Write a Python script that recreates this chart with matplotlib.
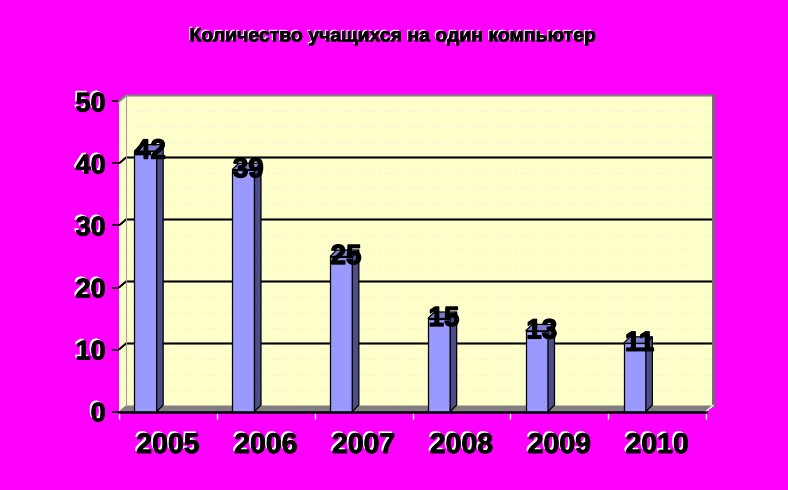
import matplotlib
matplotlib.use('Agg')
import matplotlib.pyplot as plt
from matplotlib.patches import Polygon, Rectangle
import matplotlib.patheffects as pe

# ---- data ----
years = ['2005', '2006', '2007', '2008', '2009', '2010']
values = [42, 39, 25, 15, 13, 11]
title = 'Количество учащихся на один компьютер'
yticks = [0, 10, 20, 30, 40, 50]
minor_grid = [2.5, 5, 7.5, 12.5, 15, 17.5, 22.5, 25, 27.5, 32.5, 35, 37.5, 42.5, 45, 47.5]

plt.rcParams['font.family'] = ['Liberation Sans', 'DejaVu Sans']

W, H = 788, 490
fig = plt.figure(figsize=(W / 100, H / 100), dpi=100, facecolor='#FF00FF')
x0, x1 = 119, 706
y0, y1 = 411.5, 101.5
ax = fig.add_axes([x0 / W, (H - y0) / H, (x1 - x0) / W, (y0 - y1) / H])
n = len(years)
ax.set_xlim(0, n)
ax.set_ylim(0, 50)
ax.patch.set_visible(False)

ppx = (x1 - x0) / n
ppy = (y0 - y1) / 50
dx = 7 / ppx
dy = 6 / ppy
wall = '#FFFFCC'
ymax = yticks[-1]

# back wall, left wall, floor
ax.add_patch(Rectangle((dx, dy), n, ymax, fc=wall, ec='none', zorder=0, clip_on=False))
ax.add_patch(Polygon([(0, 0), (dx, dy), (dx, ymax + dy), (0, ymax)], closed=True,
                     fc=wall, ec='none', zorder=0, clip_on=False))
ax.add_patch(Polygon([(0, 0), (n, 0), (n + dx, dy), (dx, dy)], closed=True,
                     fc='#808080', ec='none', zorder=1, clip_on=False))

# faint dotted lines on the wall
for v in minor_grid:
    ax.plot([dx, n + dx], [v + dy, v + dy], color='#EEEED8', lw=1.0,
            ls=(0, (1, 2.5)), zorder=0.5, clip_on=False)

# major gridlines
for v in yticks[1:-1]:
    ax.plot([0, dx, n + dx], [v, v + dy, v + dy], color='black', lw=1.5,
            zorder=1.5, clip_on=False, solid_capstyle='butt')

# wall borders
ax.plot([0, dx, n + dx], [ymax, ymax + dy, ymax + dy], color='#808080', lw=1.5,
        zorder=1.6, clip_on=False)
ax.plot([dx, dx], [dy, ymax + dy], color='#A0A0A0', lw=0.8, zorder=1.6, clip_on=False)
ax.plot([n + dx, n + dx], [dy, ymax + dy], color='#707070', lw=2.2, zorder=1.6, clip_on=False)
ax.plot([n, n + dx], [0, dy], color='white', lw=1.0, zorder=1.7, clip_on=False)

bold_stroke = [pe.withStroke(linewidth=0.9, foreground='black')]

# bars
bl, bw = 0.157, 0.228
bdx, bdy = 6.5 / ppx, 6.5 / ppy
for i, v in enumerate(values):
    left = i + bl
    ax.add_patch(Rectangle((left, 0), bw, v, fc='#9999FF', ec='black', lw=0.9,
                           zorder=3, clip_on=False))
    ax.add_patch(Polygon([(left + bw, 0), (left + bw + bdx, bdy), (left + bw + bdx, v + bdy),
                          (left + bw, v)], closed=True, fc='#4D4D87', ec='black', lw=0.9,
                         zorder=3, clip_on=False))
    ax.add_patch(Polygon([(left, v), (left + bw, v), (left + bw + bdx, v + bdy),
                          (left + bdx, v + bdy)], closed=True, fc='#7C7CD0', ec='black',
                         lw=0.9, zorder=3, clip_on=False))
    ax.text(left + bw / 2 + 0.05, v + 0.4, str(v), ha='center', va='center_baseline',
            fontsize=20, fontweight='bold', color='black', zorder=5,
            path_effects=bold_stroke)

shadow = [pe.SimplePatchShadow(offset=(-1.5, 1.5), shadow_rgbFace='white', alpha=1.0),
          pe.withStroke(linewidth=0.6, foreground='black')]

# axes / ticks
for s in ['top', 'right', 'left']:
    ax.spines[s].set_visible(False)
ax.spines['bottom'].set_color('black')
ax.spines['bottom'].set_linewidth(1.8)
ax.spines['bottom'].set_zorder(4)

ax.set_yticks(yticks)
ax.set_yticklabels([str(t) for t in yticks])
ax.tick_params(axis='y', length=5, width=1.2, color='black', pad=4.5,
               labelsize=19.5, labelcolor='black')
for lab in ax.get_yticklabels():
    lab.set_fontweight('bold')
    lab.set_path_effects(shadow)

ax.set_xticks(range(n + 1))
ax.set_xticklabels([])
ax.tick_params(axis='x', which='major', length=5, width=1.0, color='white')
ax.set_xticks([i + 0.5 for i in range(n)], minor=True)
ax.set_xticklabels(years, minor=True)
ax.tick_params(axis='x', which='minor', length=0, pad=15.5, labelsize=20.5)
for lab in ax.get_xticklabels(minor=True):
    lab.set_fontweight('bold')
    lab.set_path_effects(shadow)

fig.text(393 / W, 1 - 37 / H, title, ha='center', va='center', fontsize=14,
         fontweight='bold', color='black',
         path_effects=[pe.SimplePatchShadow(offset=(-1, 1), shadow_rgbFace='white', alpha=1.0),
                       pe.withStroke(linewidth=0.5, foreground='black')])

fig.savefig('out.png', dpi=100, facecolor=fig.get_facecolor())
